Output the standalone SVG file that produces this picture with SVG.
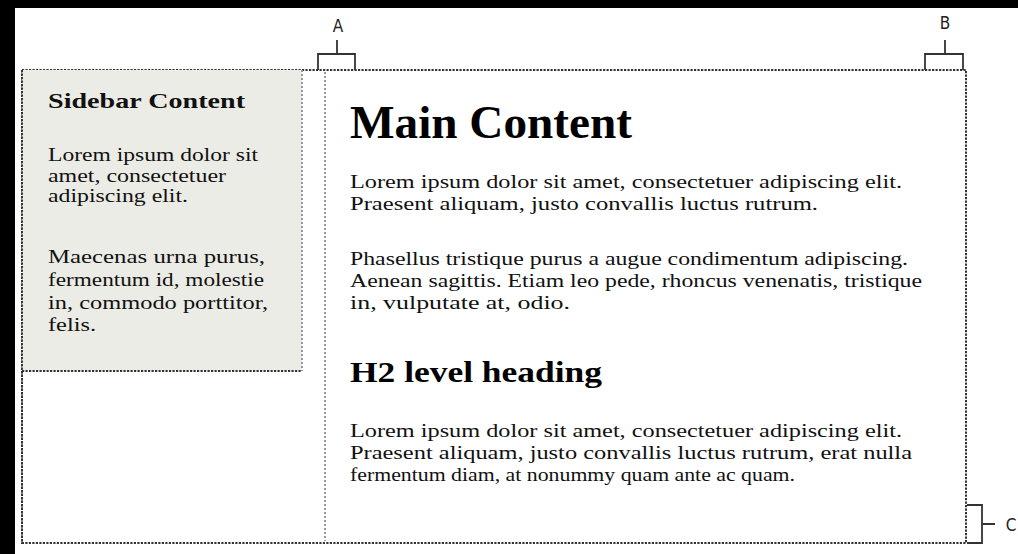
<svg xmlns="http://www.w3.org/2000/svg" width="1018" height="554" viewBox="0 0 1018 554">
<style>
.bg{fill:#000}
.dash{fill:none;stroke:#333;stroke-width:2;stroke-dasharray:2.2 1.3}
.dashl{fill:none;stroke:#999;stroke-width:2;stroke-dasharray:2 2}
.br{fill:none;stroke:#333;stroke-width:1.8}
.lbl{font-family:"DejaVu Sans Condensed","Liberation Sans",Arial,sans-serif;font-stretch:condensed;font-size:17px;fill:#222;text-anchor:middle}
.t{font-family:"Liberation Serif","Times New Roman",serif;font-size:19px;fill:#111}
.sh{font-family:"Liberation Serif","Times New Roman",serif;font-size:21px;font-weight:bold;fill:#111}
.h1{font-family:"Liberation Serif","Times New Roman",serif;font-size:46px;font-weight:bold;fill:#000}
.h2{font-family:"Liberation Serif","Times New Roman",serif;font-size:29px;font-weight:bold;fill:#000}
</style>
<rect x="0" y="0" width="1018" height="554" fill="#fff"/>
<rect class="bg" x="0" y="0" width="1018" height="8"/>
<rect class="bg" x="0" y="0" width="15" height="554"/>
<g id="page">
<rect x="22" y="70" width="944" height="473" fill="#fff" class="dash"/>
</g>
<g id="sidebar">
<rect x="22" y="70" width="280" height="301" fill="#ecece7"/>
<line class="dash" x1="22" y1="371" x2="302" y2="371"/>
<line class="dashl" x1="302" y1="70" x2="302" y2="371"/>
<line class="dash" x1="22" y1="70" x2="22" y2="543"/>
<text class="sh" x="48" y="108" textLength="197" lengthAdjust="spacingAndGlyphs">Sidebar Content</text>
<text class="t" x="48" y="161" textLength="210" lengthAdjust="spacingAndGlyphs">Lorem ipsum dolor sit</text>
<text class="t" x="48" y="182" textLength="178" lengthAdjust="spacingAndGlyphs">amet, consectetuer</text>
<text class="t" x="48" y="202" textLength="140" lengthAdjust="spacingAndGlyphs">adipiscing elit.</text>
<text class="t" x="48" y="263" textLength="217" lengthAdjust="spacingAndGlyphs">Maecenas urna purus,</text>
<text class="t" x="48" y="286" textLength="216" lengthAdjust="spacingAndGlyphs">fermentum id, molestie</text>
<text class="t" x="48" y="309" textLength="220" lengthAdjust="spacingAndGlyphs">in, commodo porttitor,</text>
<text class="t" x="48" y="331" textLength="48" lengthAdjust="spacingAndGlyphs">felis.</text>
</g>
<g id="main">
<line class="dashl" x1="325" y1="72" x2="325" y2="541"/>
<text class="h1" x="350" y="138" textLength="282" lengthAdjust="spacingAndGlyphs">Main Content</text>
<text class="t" x="350" y="188" textLength="552" lengthAdjust="spacingAndGlyphs">Lorem ipsum dolor sit amet, consectetuer adipiscing elit.</text>
<text class="t" x="350" y="210" textLength="468" lengthAdjust="spacingAndGlyphs">Praesent aliquam, justo convallis luctus rutrum.</text>
<text class="t" x="350" y="265" textLength="558" lengthAdjust="spacingAndGlyphs">Phasellus tristique purus a augue condimentum adipiscing.</text>
<text class="t" x="350" y="287" textLength="572" lengthAdjust="spacingAndGlyphs">Aenean sagittis. Etiam leo pede, rhoncus venenatis, tristique</text>
<text class="t" x="350" y="309" textLength="220" lengthAdjust="spacingAndGlyphs">in, vulputate at, odio.</text>
<text class="h2" x="350" y="382" textLength="252" lengthAdjust="spacingAndGlyphs">H2 level heading</text>
<text class="t" x="350" y="437" textLength="552" lengthAdjust="spacingAndGlyphs">Lorem ipsum dolor sit amet, consectetuer adipiscing elit.</text>
<text class="t" x="350" y="459" textLength="562" lengthAdjust="spacingAndGlyphs">Praesent aliquam, justo convallis luctus rutrum, erat nulla</text>
<text class="t" x="350" y="481" textLength="445" lengthAdjust="spacingAndGlyphs">fermentum diam, at nonummy quam ante ac quam.</text>
</g>
<g id="connectors">
<path class="br" d="M318 70 V54 H355 V70 M337 54 V40"/>
<path class="br" d="M925 70 V54 H963 V70 M945 54 V40"/>
<path class="br" d="M967 505 H982 V543 H967 M982 524 H995"/>
</g>
<g id="labels">
<text class="lbl" x="338" y="32">A</text>
<text class="lbl" x="945" y="29">B</text>
<text class="lbl" x="1011" y="531">C</text>
</g>
</svg>
